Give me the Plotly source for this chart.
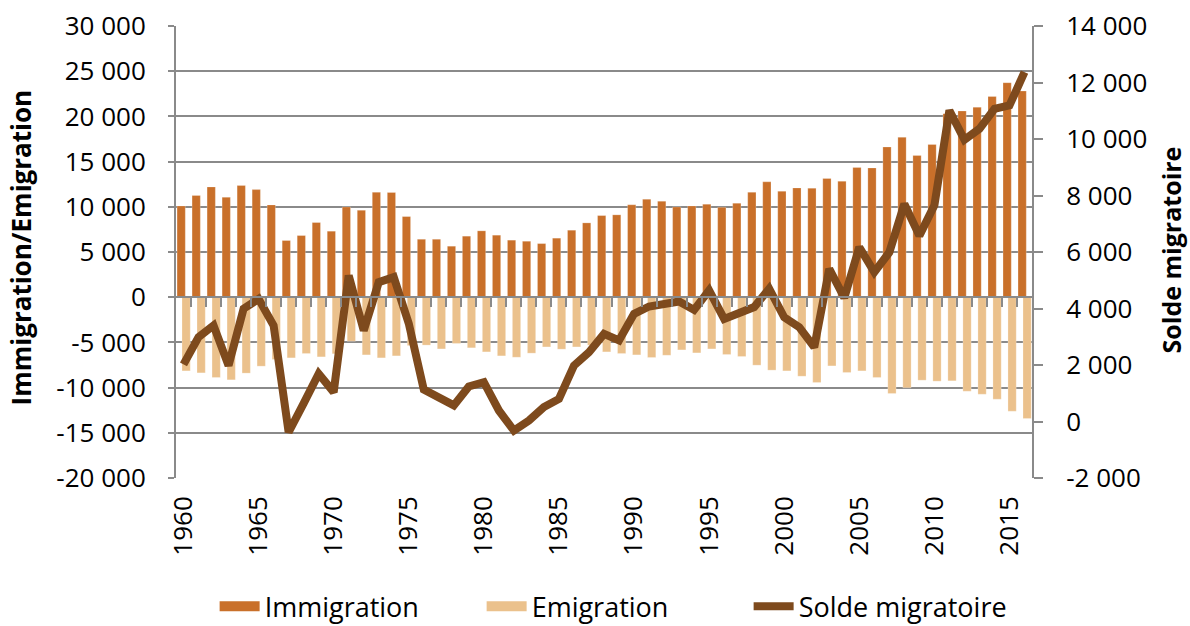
import plotly.graph_objects as go

years = list(range(1960, 2017))

immigration = [10100, 11250, 12200, 11060, 12350, 11900, 10210, 6270, 6820, 8260,
               7300, 9990, 9620, 11610, 11580, 8920, 6410, 6410, 5640, 6750,
               7340, 6860, 6310, 6190, 5930, 6530, 7410, 8220, 9030, 9110,
               10220, 10840, 10620, 9990, 10100, 10290, 9950, 10400, 11610, 12760,
               11720, 12090, 12060, 13130, 12830, 14340, 14300, 16620, 17690, 15670,
               16890, 20300, 20600, 21020, 22200, 23730, 22810]

emigration = [8150, 8370, 8880, 9140, 8400, 7630, 6890, 6710, 6230, 6600,
              6260, 4870, 6380, 6710, 6490, 5350, 5300, 5720, 5120, 5600,
              6050, 6490, 6640, 6190, 5500, 5750, 5500, 5310, 6050, 6230,
              6380, 6670, 6420, 5830, 6160, 5720, 6340, 6560, 7520, 8070,
              8150, 8740, 9440, 7600, 8330, 8150, 8880, 10650, 10030, 9180,
              9290, 9250, 10400, 10730, 11280, 12610, 13420]

solde = [2020, 2985, 3400, 1980, 3990, 4340, 3400, -380, 640, 1690,
         1040, 5170, 3220, 4930, 5110, 3470, 1130, 860, 570, 1240,
         1390, 390, -320, 35, 510, 800, 1980, 2450, 3100, 2870,
         3810, 4070, 4170, 4250, 3950, 4640, 3630, 3810, 4050, 4700,
         3690, 3340, 2630, 5400, 4380, 6170, 5290, 5990, 7700, 6580,
         7650, 11010, 9970, 10360, 11070, 11190, 12370]

left_ticks = list(range(-20000, 30001, 5000))
right_ticks = list(range(-2000, 14001, 2000))
year_ticks = list(range(1960, 2016, 5))

c_imm = '#C9702A'
c_emi = '#EBC18C'
c_line = '#7E4A1D'
grid = '#8A8A8A'
font = 'Open Sans'


def fmt(v):
    return f'{v:,}'.replace(',', ' ')


fig = go.Figure()

fig.add_trace(go.Bar(x=years, y=immigration, name='Immigration', marker_color=c_imm,
                     marker_line_color='rgba(255,255,255,0.4)', marker_line_width=0.6,
                     width=0.55, offset=-0.43, showlegend=False))
fig.add_trace(go.Bar(x=years, y=[-v for v in emigration], name='Emigration', marker_color=c_emi,
                     marker_line_color='rgba(255,255,255,0.4)', marker_line_width=0.6,
                     width=0.55, offset=-0.10, showlegend=False))

# axis at zero with the category tick marks
fig.add_trace(go.Scatter(x=years, y=[None] * len(years), xaxis='x2', yaxis='y',
                         showlegend=False, hoverinfo='skip'))

fig.add_trace(go.Scatter(x=years, y=solde, name='Solde migratoire', yaxis='y2', mode='lines',
                         line=dict(color=c_line, width=8), showlegend=False))

# legend keys
fig.add_trace(go.Scatter(x=[None], y=[None], name='Immigration', mode='lines',
                         line=dict(color=c_imm, width=18)))
fig.add_trace(go.Scatter(x=[None], y=[None], name='Emigration', mode='lines',
                         line=dict(color=c_emi, width=18)))
fig.add_trace(go.Scatter(x=[None], y=[None], name='Solde migratoire', mode='lines',
                         line=dict(color=c_line, width=8)))

fig.update_layout(
    template='none',
    width=1190, height=626,
    margin=dict(l=176, r=158, t=26, b=148, autoexpand=False),
    paper_bgcolor='white', plot_bgcolor='white',
    font=dict(family=font, size=26, color='black'),
    barmode='overlay',
    showlegend=True,
    legend=dict(orientation='h', x=0.513, xanchor='center', y=-0.285, yanchor='middle',
                font=dict(size=27), entrywidth=212, itemwidth=40, bgcolor='rgba(0,0,0,0)'),
    xaxis=dict(range=[1959.5, 2016.5], tickvals=year_ticks, ticktext=[str(y) for y in year_ticks],
               tickangle=-90, showgrid=False, zeroline=False, showline=False, ticks='',
               ticklabelstandoff=12, automargin=False),
    xaxis2=dict(range=[1959.5, 2016.5], overlaying='x', anchor='free', position=0.4,
                showline=True, linecolor=grid, linewidth=2,
                tickvals=[y + 0.5 for y in years[:-1]], ticks='outside', ticklen=9,
                tickwidth=2, tickcolor=grid, showticklabels=False, showgrid=False,
                zeroline=False, automargin=False),
    yaxis=dict(range=[-20000, 30000], tickvals=left_ticks, ticktext=[fmt(v) for v in left_ticks],
               showgrid=True, gridcolor=grid, gridwidth=1.5, zeroline=False,
               showline=True, linecolor=grid, linewidth=2, ticks='outside', ticklen=6,
               tickwidth=2, tickcolor=grid, ticklabelstandoff=17, automargin=False),
    yaxis2=dict(range=[-2000, 14000], tickvals=right_ticks, ticktext=[fmt(v) for v in right_ticks],
                overlaying='y', side='right', showgrid=False, zeroline=False,
                showline=True, linecolor=grid, linewidth=2, ticks='outside', ticklen=9,
                tickwidth=2, tickcolor=grid, ticklabelstandoff=18, automargin=False),
    annotations=[
        dict(text='<b>Immigration/Emigration</b>', xref='paper', yref='paper',
             x=-0.18, y=0.51, textangle=-90, showarrow=False,
             xanchor='center', yanchor='middle', font=dict(size=26)),
        dict(text='<b>Solde migratoire</b>', xref='paper', yref='paper',
             x=1.162, y=0.505, textangle=-90, showarrow=False,
             xanchor='center', yanchor='middle', font=dict(size=25)),
    ],
)

fig.write_html("out.html", config={'displayModeBar': False},
               post_script="document.body.style.margin='0px';")
